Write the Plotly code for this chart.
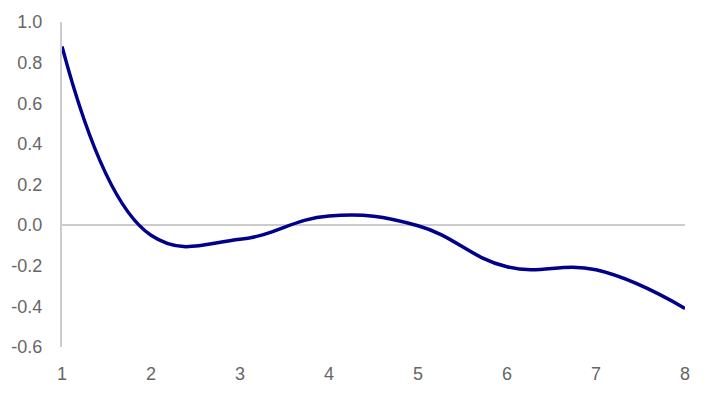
import plotly.graph_objects as go

x_values = [1, 2, 3, 4, 5, 6, 7, 8]
y_values = [0.88, -0.05, -0.07, 0.045, -0.003, -0.205, -0.22, -0.41]
y_ticks = [-0.6, -0.4, -0.2, 0.0, 0.2, 0.4, 0.6, 0.8, 1.0]
y_labels = ["-0.6", "-0.4", "-0.2", "0.0", "0.2", "0.4", "0.6", "0.8", "1.0"]

fig = go.Figure()
fig.add_trace(go.Scatter(
    x=x_values, y=y_values, mode="lines",
    line=dict(color="#00008B", width=3.5, shape="spline", smoothing=1.2),
    showlegend=False,
))

fig.update_layout(
    width=723, height=393,
    margin=dict(l=62, r=38, t=22, b=46),
    paper_bgcolor="white", plot_bgcolor="white",
    font=dict(family="Liberation Sans, Arial, sans-serif", size=18, color="#666666"),
    xaxis=dict(
        range=[1, 8], tickmode="array", tickvals=x_values,
        showgrid=False, zeroline=False, showline=False, ticks="",
        ticklabelstandoff=14, automargin=False,
    ),
    yaxis=dict(
        range=[-0.6, 1.0], tickmode="array", tickvals=y_ticks, ticktext=y_labels,
        showgrid=False, zeroline=True, zerolinecolor="#cccccc", zerolinewidth=2,
        showline=True, linecolor="#cccccc", linewidth=2, ticks="",
        ticklabelstandoff=14, automargin=False,
    ),
)

fig.write_html("out.html")
